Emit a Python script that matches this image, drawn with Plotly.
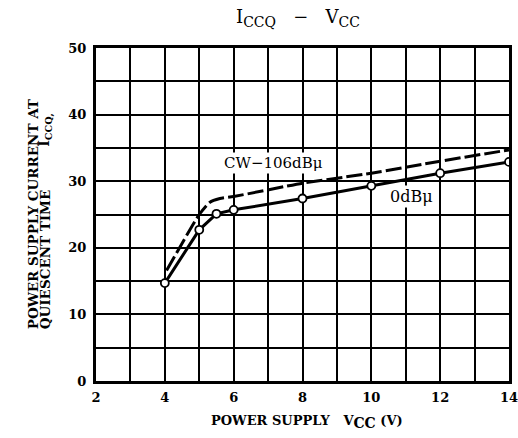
import plotly.graph_objects as go

# Data
vcc_0db = [4, 5, 5.5, 6, 8, 10, 12, 14]
iccq_0db = [14.7, 22.7, 25.1, 25.7, 27.4, 29.3, 31.2, 32.9]

vcc_cw = [4.05, 5, 5.3, 5.6, 6, 8, 10, 12, 14]
iccq_cw = [16.6, 25.0, 26.8, 27.4, 27.7, 29.7, 31.2, 33.0, 34.7]

x_tickvals = list(range(2, 15))
x_ticktext = ["2", "", "4", "", "6", "", "8", "", "10", "", "12", "", "14"]
y_tickvals = list(range(0, 55, 5))
y_ticktext = ["0", "", "10", "", "20", "", "30", "", "40", "", "50"]

FONT = "DejaVu Serif"

fig = go.Figure()
fig.add_trace(go.Scatter(
    x=vcc_cw, y=iccq_cw, mode="lines",
    line=dict(color="black", width=3, dash="16px,4px", shape="spline", smoothing=0.5),
    showlegend=False, hoverinfo="skip", cliponaxis=False))
fig.add_trace(go.Scatter(
    x=vcc_0db, y=iccq_0db, mode="lines+markers",
    line=dict(color="black", width=3),
    marker=dict(symbol="circle", size=8, color="white", line=dict(color="black", width=1.8)),
    showlegend=False))

axis_common = dict(
    showgrid=True, gridcolor="black", gridwidth=2,
    zeroline=False, showline=True, mirror=True, linecolor="black", linewidth=3,
    ticks="", automargin=False, ticklabeloverflow="allow",
    tickfont=dict(family=FONT, size=13, color="black", weight="bold"),
)
fig.update_xaxes(range=[2, 14], tickmode="array", tickvals=x_tickvals, ticktext=x_ticktext,
                 ticklabelstandoff=2, **axis_common)
fig.update_yaxes(range=[0, 50], tickmode="array", tickvals=y_tickvals, ticktext=y_ticktext,
                 ticklabelstandoff=4, **axis_common)

SUB = '<sub><span style="font-size:14px">{}</span></sub>'

fig.update_layout(
    width=518, height=438,
    margin=dict(l=96, r=9, t=48, b=57),
    plot_bgcolor="white", paper_bgcolor="white",
    font=dict(family=FONT, color="black"),
    annotations=[
        dict(text="I" + SUB.format("CCQ") + "&nbsp;&nbsp;&nbsp;−&nbsp;&nbsp;&nbsp;V" + SUB.format("CC"),
             xref="paper", yref="paper",
             x=0.49, y=1, yshift=16, showarrow=False, xanchor="center", yanchor="bottom",
             font=dict(family=FONT, size=18, color="black")),
        dict(text="POWER SUPPLY&nbsp;&nbsp;&nbsp;V" + SUB.format("CC") + "&nbsp;(V)",
             xref="paper", yref="paper",
             x=0.51, y=0, yshift=-30, showarrow=False, xanchor="center", yanchor="top",
             font=dict(family=FONT, size=13, color="black", weight="bold")),
        dict(text="POWER SUPPLY CURRENT AT", xref="paper", yref="paper",
             x=-0.152, y=0.15, textangle=-90, showarrow=False, xanchor="center", yanchor="bottom",
             font=dict(family=FONT, size=13.5, color="black", weight="bold")),
        dict(text="QUIESCENT TIME", xref="paper", yref="paper",
             x=-0.123, y=0.15, textangle=-90, showarrow=False, xanchor="center", yanchor="bottom",
             font=dict(family=FONT, size=13.5, color="black", weight="bold")),
        dict(text="I<sub>CCQ,</sub>", xref="paper", yref="paper",
             x=-0.123, y=0.755, textangle=-90, showarrow=False, xanchor="center", yanchor="middle",
             font=dict(family=FONT, size=14, color="black", weight="bold")),
        dict(text="CW−106dBμ", xref="x", yref="y", x=7.16, y=32.8, showarrow=False,
             bgcolor="white", font=dict(family=FONT, size=15, color="black")),
        dict(text="0dBμ", xref="x", yref="y", x=11.16, y=27.7, showarrow=False,
             bgcolor="white", font=dict(family=FONT, size=16, color="black")),
    ],
)

fig.write_html(
    "out.html",
    config={"displayModeBar": False},
    post_script="document.body.style.margin='0';document.body.style.overflow='hidden';",
)
